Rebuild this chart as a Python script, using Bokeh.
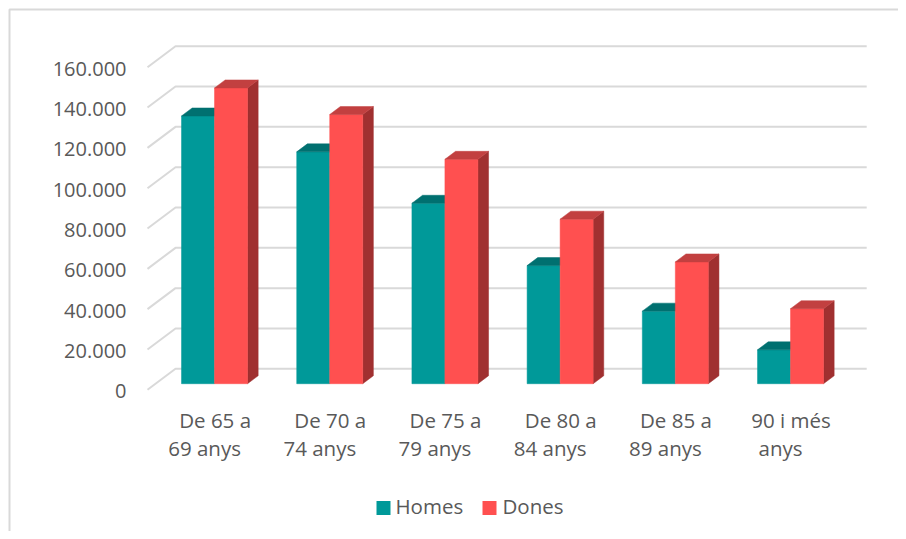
from bokeh.plotting import figure
from bokeh.models import Range1d
from bokeh.core.properties import value
from bokeh.embed import file_html
from bokeh.resources import INLINE

# ---------------- data ----------------
categories = ["De 65 a\n69 anys", "De 70 a\n74 anys", "De 75 a\n79 anys",
              "De 80 a\n84 anys", "De 85 a\n89 anys", "90 i més\nanys"]
homes = [132800, 115000, 89500, 58600, 36000, 16800]
dones = [146700, 133500, 111300, 81600, 60400, 37200]
series_names = ["Homes", "Dones"]
y_ticks = [0, 20000, 40000, 60000, 80000, 100000, 120000, 140000, 160000]
y_tick_labels = ["0", "20.000", "40.000", "60.000", "80.000",
                 "100.000", "120.000", "140.000", "160.000"]

# ---------------- layout / style ----------------
W, H = 898, 531
X0_PX, XS = 147.0, 115.2            # canvas px of front-left floor corner, px per category
Y0_PX, YS = 389.3, 322.6 / 160000   # canvas px (from top) of value 0 (front plane), px per unit
DEPTH_X_PX, DEPTH_Y_PX = 28.0, 21.0
F0, F1 = 0.29, 0.67                 # bar front / back depth fractions
BAR_OFF_PX, BAR_W_PX = 25.9, 33.0

front_colors = ["#009999", "#FF5050"]
top_colors = ["#007070", "#C24040"]
side_colors = ["#006060", "#A03030"]
grid_color = "#D9D9D9"
text_color = "#595959"
FONT = value("Open Sans")
FS = "20.5px"
FS_TICK = "20px"


def dxu(px):
    return px / XS


def dyu(px):
    return px / YS


def data_x(cx):
    return (cx - X0_PX) / XS


def data_y(cy):
    return (Y0_PX - cy) / YS


DX, DY = dxu(DEPTH_X_PX), dyu(DEPTH_Y_PX)
n_cat = len(categories)

p = figure(width=W, height=H,
           x_range=Range1d(-X0_PX / XS, (W - X0_PX) / XS),
           y_range=Range1d(-(H - Y0_PX) / YS, Y0_PX / YS),
           x_axis_type=None, y_axis_type=None,
           output_backend="svg", toolbar_location=None,
           min_border=0, outline_line_color=None,
           background_fill_color="white", border_fill_color="white")

# outer chart border (top and left visible)
p.line(x=[data_x(9), data_x(9), data_x(W)],
       y=[data_y(H), data_y(9), data_y(9)],
       line_color=grid_color, line_width=2)

# walls gridlines: side-wall diagonal + back-wall line
gx = [[0, DX, n_cat + DX] for _ in y_ticks]
gy = [[v, v + DY, v + DY] for v in y_ticks]
p.multi_line(xs=gx, ys=gy, line_color=grid_color, line_width=2)

# 3D bars
fx0, fy0 = F0 * DX, F0 * DY
bdx, bdy = (F1 - F0) * DX, (F1 - F0) * DY
bw = dxu(BAR_W_PX)
off = dxu(BAR_OFF_PX)
for s, vals in enumerate([homes, dones]):
    fxs, fys, txs, tys, sxs, sys_ = [], [], [], [], [], []
    for i, v in enumerate(vals):
        xl = i + fx0 + off + s * bw
        xr = xl + bw
        y0 = fy0
        y1 = v + fy0
        fxs.append([xl, xr, xr, xl])
        fys.append([y0, y0, y1, y1])
        txs.append([xl, xr, xr + bdx, xl + bdx])
        tys.append([y1, y1, y1 + bdy, y1 + bdy])
        sxs.append([xr, xr + bdx, xr + bdx, xr])
        sys_.append([y0, y0 + bdy, y1 + bdy, y1])
    if s == 1:
        p.patches(xs=sxs, ys=sys_, fill_color=side_colors[s], line_color=side_colors[s], line_width=0.5)
    p.patches(xs=fxs, ys=fys, fill_color=front_colors[s], line_color=front_colors[s], line_width=0.5)
    p.patches(xs=txs, ys=tys, fill_color=top_colors[s], line_color=top_colors[s], line_width=0.5)

# y tick labels
p.text(x=[0] * len(y_ticks), y=y_ticks, text=y_tick_labels,
       x_offset=-21, y_offset=1.5, text_align="right", text_baseline="alphabetic",
       text_font=FONT, text_font_size=FS_TICK, text_color=text_color)

# category labels (two lines)
line1 = [c.split("\n")[0] for c in categories]
line2 = [c.split("\n")[1] for c in categories]
cx = [i + 0.5 for i in range(n_cat)]
p.text(x=cx, y=[0] * n_cat, text=line1, x_offset=10, y_offset=29.7,
       text_align="center", text_baseline="alphabetic",
       text_font=FONT, text_font_size=FS, text_color=text_color)
p.text(x=cx, y=[0] * n_cat, text=line2, x_offset=-0.5, y_offset=57.7,
       text_align="center", text_baseline="alphabetic",
       text_font=FONT, text_font_size=FS, text_color=text_color)

# legend
leg_sq_x = [data_x(383), data_x(489)]
leg_y = data_y(507.5)
p.scatter(x=leg_sq_x, y=[leg_y, leg_y], marker="square", size=14,
          fill_color=front_colors, line_color=None)
p.text(x=[data_x(395), data_x(502)], y=[data_y(505)] * 2, text=series_names,
       text_align="left", text_baseline="alphabetic",
       text_font=FONT, text_font_size=FS, text_color=text_color)

open("out.html", "w").write(file_html(p, INLINE))
